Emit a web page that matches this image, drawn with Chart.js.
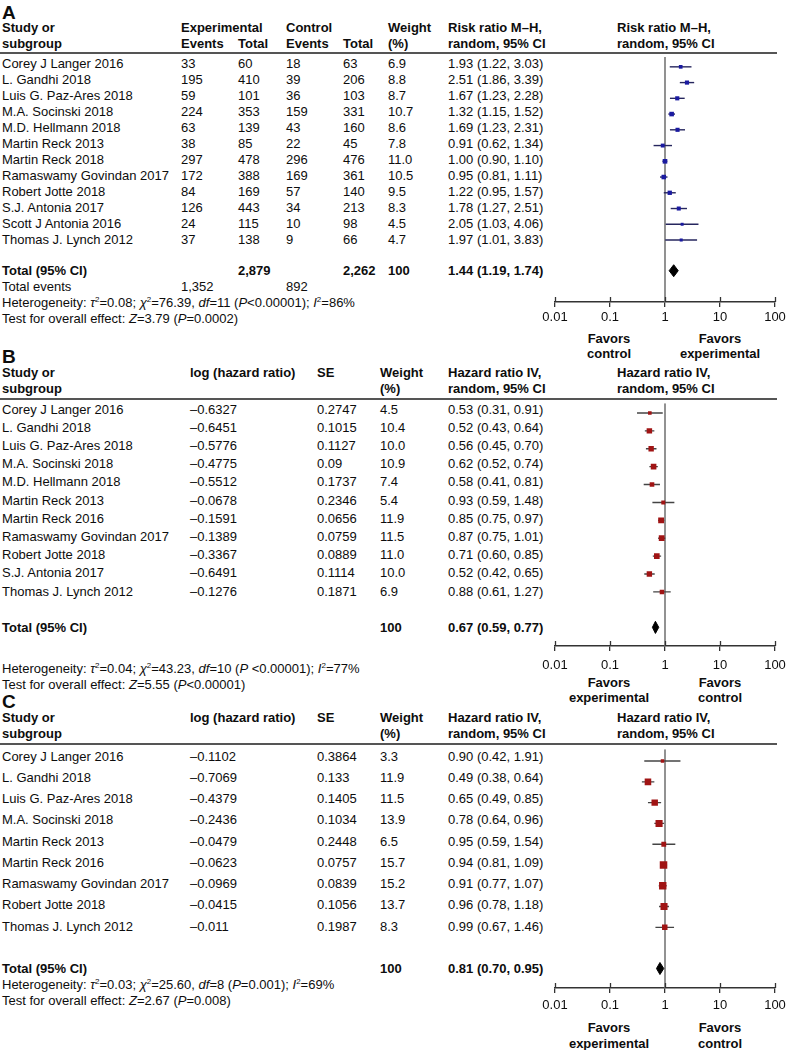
<!DOCTYPE html>
<html><head><meta charset="utf-8">
<script src="https://cdn.jsdelivr.net/npm/chart.js@4.4.1/dist/chart.umd.min.js"></script>
<style>
html,body{margin:0;padding:0;background:#fff;}
#page{position:relative;width:786px;height:1050px;overflow:hidden;font-family:"Liberation Sans",Arial,sans-serif;font-size:13px;color:#0d0d0d;}
.t{position:absolute;white-space:nowrap;line-height:15px;height:15px;}
.b{font-weight:bold;}
.c{transform:translateX(-50%);text-align:center;}
.hl{position:absolute;left:0;width:777px;height:1.5px;background:#555;}
.cv{position:absolute;}
sup{font-size:8px;line-height:0;vertical-align:5px;}
.big{font-size:19px;font-weight:bold;line-height:20px;height:20px;}
</style></head><body><div id="page"></div>
<script>
// ---------- Panel A data ----------
const studiesA = ["Corey J Langer 2016","L. Gandhi 2018","Luis G. Paz-Ares 2018","M.A. Socinski 2018","M.D. Hellmann 2018","Martin Reck 2013","Martin Reck 2018","Ramaswamy Govindan 2017","Robert Jotte 2018","S.J. Antonia 2017","Scott J Antonia 2016","Thomas J. Lynch 2012"];
const expEventsA = [33,195,59,224,63,38,297,172,84,126,24,37];
const expTotalA  = [60,410,101,353,139,85,478,388,169,443,115,138];
const ctlEventsA = [18,39,36,159,43,22,296,169,57,34,10,9];
const ctlTotalA  = [63,206,103,331,160,45,476,361,140,213,98,66];
const weightA    = [6.9,8.8,8.7,10.7,8.6,7.8,11.0,10.5,9.5,8.3,4.5,4.7];
const rrA   = [1.93,2.51,1.67,1.32,1.69,0.91,1.00,0.95,1.22,1.78,2.05,1.97];
const rrLoA = [1.22,1.86,1.23,1.15,1.23,0.62,0.90,0.81,0.95,1.27,1.03,1.01];
const rrHiA = [3.03,3.39,2.28,1.52,2.31,1.34,1.10,1.11,1.57,2.51,4.06,3.83];
const totalA = [1.44,1.19,1.74];
const totalCountsA = ["2,879","2,262"];
const totalEventsA = ["1,352","892"];

// ---------- Panel B data ----------
const studiesB = ["Corey J Langer 2016","L. Gandhi 2018","Luis G. Paz-Ares 2018","M.A. Socinski 2018","M.D. Hellmann 2018","Martin Reck 2013","Martin Reck 2016","Ramaswamy Govindan 2017","Robert Jotte 2018","S.J. Antonia 2017","Thomas J. Lynch 2012"];
const logHrB  = [-0.6327,-0.6451,-0.5776,-0.4775,-0.5512,-0.0678,-0.1591,-0.1389,-0.3367,-0.6491,-0.1276];
const seB     = [0.2747,0.1015,0.1127,0.09,0.1737,0.2346,0.0656,0.0759,0.0889,0.1114,0.1871];
const weightB = [4.5,10.4,10.0,10.9,7.4,5.4,11.9,11.5,11.0,10.0,6.9];
const hrB   = [0.53,0.52,0.56,0.62,0.58,0.93,0.85,0.87,0.71,0.52,0.88];
const hrLoB = [0.31,0.43,0.45,0.52,0.41,0.59,0.75,0.75,0.60,0.42,0.61];
const hrHiB = [0.91,0.64,0.70,0.74,0.81,1.48,0.97,1.01,0.85,0.65,1.27];
const totalB = [0.67,0.59,0.77];

// ---------- Panel C data ----------
const studiesC = ["Corey J Langer 2016","L. Gandhi 2018","Luis G. Paz-Ares 2018","M.A. Socinski 2018","Martin Reck 2013","Martin Reck 2016","Ramaswamy Govindan 2017","Robert Jotte 2018","Thomas J. Lynch 2012"];
const logHrC  = [-0.1102,-0.7069,-0.4379,-0.2436,-0.0479,-0.0623,-0.0969,-0.0415,-0.011];
const seC     = [0.3864,0.133,0.1405,0.1034,0.2448,0.0757,0.0839,0.1056,0.1987];
const weightC = [3.3,11.9,11.5,13.9,6.5,15.7,15.2,13.7,8.3];
const hrC   = [0.90,0.49,0.65,0.78,0.95,0.94,0.91,0.96,0.99];
const hrLoC = [0.42,0.38,0.49,0.64,0.59,0.81,0.77,0.78,0.67];
const hrHiC = [1.91,0.64,0.85,0.96,1.54,1.09,1.07,1.18,1.46];
const totalC = [0.81,0.70,0.95];

// ---------- axis ----------
const axisTicks = [0.01,0.1,1,10,100];
const axisTickLabels = ["0.01","0.1","1","10","100"];

// ---------- helpers ----------
const page = document.getElementById('page');
function txt(x, y, html, cls) {
  const d = document.createElement('div');
  d.className = 't' + (cls ? ' ' + cls : '');
  d.style.left = x + 'px';
  d.style.top = (y - 7.5) + 'px';
  d.innerHTML = html;
  page.appendChild(d);
  return d;
}
function hline(y) {
  const d = document.createElement('div');
  d.className = 'hl';
  d.style.top = (y - 0.75) + 'px';
  page.appendChild(d);
}
const f2 = v => v.toFixed(2);
const ciText = (e, l, h) => f2(e) + ' (' + f2(l) + ', ' + f2(h) + ')';
const dash = v => (v < 0 ? '\u2013' + String(Math.abs(v)) : String(v));

const upTicks = {
  id: 'upTicks',
  afterDraw(chart) {
    const xs = chart.scales.x, ctx = chart.ctx, y = chart.chartArea.bottom;
    ctx.save();
    ctx.strokeStyle = '#333'; ctx.lineWidth = 1.3;
    axisTicks.forEach(v => {
      const x = Math.round(xs.getPixelForValue(v)) + 0.5;
      ctx.beginPath(); ctx.moveTo(x, y - 5); ctx.lineTo(x, y); ctx.stroke();
    });
    ctx.restore();
  }
};

function forest(cfg) {
  const AXH = 40;
  const left = 520, width = 280, padL = 35, padR = 25;
  const cv = document.createElement('canvas');
  cv.className = 'cv';
  const h = (cfg.axisY - cfg.lineY) + AXH;
  cv.width = width; cv.height = h;
  cv.style.left = left + 'px'; cv.style.top = cfg.lineY + 'px';
  cv.style.width = width + 'px'; cv.style.height = h + 'px';
  page.appendChild(cv);
  const yMin = (cfg.lineY - cfg.row0) / cfg.rowH;
  const yMax = (cfg.axisY - cfg.row0) / cfg.rowH;
  const datasets = [];
  datasets.push({
    type: 'scatter',
    data: cfg.est.map((v, i) => ({x: v, y: i})),
    pointStyle: 'rect',
    pointRadius: cfg.weight.map(w => cfg.k * Math.sqrt(w) / Math.SQRT2),
    backgroundColor: cfg.markColor,
    borderWidth: 0,
    order: 0
  });
  cfg.est.forEach((v, i) => {
    datasets.push({
      type: 'line',
      data: [{x: cfg.lo[i], y: i}, {x: cfg.hi[i], y: i}],
      borderColor: cfg.ciColor, borderWidth: 1.4, pointRadius: 0, order: 1
    });
  });
  const t = cfg.totalRow, dh = cfg.diamondH;
  datasets.push({
    type: 'line',
    data: [{x: cfg.total[1], y: t}, {x: cfg.total[0], y: t - dh}, {x: cfg.total[2], y: t}, {x: cfg.total[0], y: t + dh}, {x: cfg.total[1], y: t}],
    borderColor: '#000', backgroundColor: '#000', borderWidth: 1, pointRadius: 0, fill: 'shape', order: 0
  });
  datasets.push({
    type: 'line',
    data: [{x: 1, y: yMin}, {x: 1, y: yMax}],
    borderColor: '#777', borderWidth: 1.6, pointRadius: 0, order: 2
  });
  new Chart(cv, {
    type: 'scatter',
    data: {datasets},
    options: {
      responsive: false, animation: false, devicePixelRatio: 1, events: [],
      layout: {padding: {left: padL, right: padR, top: 0, bottom: 0}},
      plugins: {legend: {display: false}, tooltip: {enabled: false}},
      scales: {
        x: {
          type: 'logarithmic', min: 0.01, max: 100,
          afterBuildTicks: s => { s.ticks = axisTicks.map(v => ({value: v})); },
          afterFit: s => { s.height = AXH; },
          ticks: {
            autoSkip: false, maxRotation: 0, padding: cfg.tickPad, color: '#0d0d0d',
            font: {family: '"Liberation Sans", Arial, sans-serif', size: 13},
            callback: v => { const i = axisTicks.findIndex(a => Math.abs(a - v) < 1e-9); return i >= 0 ? axisTickLabels[i] : ''; }
          },
          grid: {drawOnChartArea: false, drawTicks: true, tickLength: 5, color: '#333', lineWidth: 1.3},
          border: {display: true, color: '#333', width: 1.5}
        },
        y: {type: 'linear', reverse: true, display: false, min: yMin, max: yMax}
      }
    },
    plugins: [upTicks]
  });
}

// ================= Panel A =================
(function () {
  const row0 = 63, rowH = 16, totalRow = 12.95;
  const ry = i => row0 + rowH * i;
  txt(2, 10, 'A', 'big');
  txt(2, 27, 'Study or', 'b'); txt(2, 43, 'subgroup', 'b');
  txt(181, 27, 'Experimental', 'b'); txt(181, 43, 'Events', 'b'); txt(238, 43, 'Total', 'b');
  txt(286, 27, 'Control', 'b'); txt(286, 43, 'Events', 'b'); txt(343, 43, 'Total', 'b');
  txt(388, 27, 'Weight', 'b'); txt(388, 43, '(%)', 'b');
  txt(448, 27, 'Risk ratio M\u2013H,', 'b'); txt(448, 43, 'random, 95% CI', 'b');
  txt(617, 27, 'Risk ratio M\u2013H,', 'b'); txt(617, 43, 'random, 95% CI', 'b');
  hline(53);
  studiesA.forEach((s, i) => {
    const y = ry(i);
    txt(2, y, s);
    txt(181, y, String(expEventsA[i])); txt(238, y, String(expTotalA[i]));
    txt(286, y, String(ctlEventsA[i])); txt(343, y, String(ctlTotalA[i]));
    txt(388, y, weightA[i].toFixed(1));
    txt(448, y, ciText(rrA[i], rrLoA[i], rrHiA[i]));
  });
  const ty = ry(totalRow);
  txt(2, ty, 'Total (95% CI)', 'b');
  txt(238, ty, totalCountsA[0], 'b'); txt(343, ty, totalCountsA[1], 'b');
  txt(388, ty, '100', 'b'); txt(448, ty, ciText(totalA[0], totalA[1], totalA[2]), 'b');
  txt(2, 286, 'Total events'); txt(181, 286, totalEventsA[0]); txt(286, 286, totalEventsA[1]);
  txt(2, 302, 'Heterogeneity: <i>\u03c4</i><sup>2</sup>=0.08; <i>\u03c7</i><sup>2</sup>=76.39, <i>df</i>=11 (<i>P</i>&lt;0.00001); <i>I</i><sup>2</sup>=86%');
  txt(2, 318, 'Test for overall effect: <i>Z</i>=3.79 (<i>P</i>=0.0002)');
  txt(609, 338, 'Favors', 'b c'); txt(609, 353, 'control', 'b c');
  txt(720, 338, 'Favors', 'b c'); txt(720, 353, 'experimental', 'b c');
  forest({lineY: 53, axisY: 302, row0, rowH, est: rrA, lo: rrLoA, hi: rrHiA, weight: weightA,
    k: 1.4, markColor: '#1a1aa0', ciColor: '#26265e', total: totalA, totalRow, diamondH: 0.38, tickPad: 3});
})();

// ================= Panel B =================
(function () {
  const row0 = 409, rowH = 18.2, totalRow = 11.98;
  const ry = i => row0 + rowH * i;
  txt(2, 354, 'B', 'big');
  txt(2, 372, 'Study or', 'b'); txt(2, 388, 'subgroup', 'b');
  txt(190, 372, 'log (hazard ratio)', 'b'); txt(317, 372, 'SE', 'b');
  txt(380, 372, 'Weight', 'b'); txt(380, 388, '(%)', 'b');
  txt(448, 372, 'Hazard ratio IV,', 'b'); txt(448, 388, 'random, 95% CI', 'b');
  txt(617, 372, 'Hazard ratio IV,', 'b'); txt(617, 388, 'random, 95% CI', 'b');
  hline(399);
  studiesB.forEach((s, i) => {
    const y = ry(i);
    txt(2, y, s); txt(190, y, dash(logHrB[i])); txt(317, y, String(seB[i]));
    txt(380, y, weightB[i].toFixed(1)); txt(448, y, ciText(hrB[i], hrLoB[i], hrHiB[i]));
  });
  const ty = ry(totalRow);
  txt(2, ty, 'Total (95% CI)', 'b'); txt(380, ty, '100', 'b');
  txt(448, ty, ciText(totalB[0], totalB[1], totalB[2]), 'b');
  txt(2, 668, 'Heterogeneity: <i>\u03c4</i><sup>2</sup>=0.04; <i>\u03c7</i><sup>2</sup>=43.23, <i>df</i>=10 (<i>P</i> &lt;0.00001); <i>I</i><sup>2</sup>=77%');
  txt(2, 684, 'Test for overall effect: <i>Z</i>=5.55 (<i>P</i>&lt;0.00001)');
  txt(609, 682, 'Favors', 'b c'); txt(609, 697, 'experimental', 'b c');
  txt(720, 682, 'Favors', 'b c'); txt(720, 697, 'control', 'b c');
  forest({lineY: 399, axisY: 646, row0, rowH, est: hrB, lo: hrLoB, hi: hrHiB, weight: weightB,
    k: 1.7, markColor: '#a01414', ciColor: '#444', total: totalB, totalRow, diamondH: 0.34, tickPad: 7});
})();

// ================= Panel C =================
(function () {
  const row0 = 756, rowH = 21.25, totalRow = 9.98;
  const ry = i => row0 + rowH * i;
  txt(2, 699, 'C', 'big');
  txt(2, 717, 'Study or', 'b'); txt(2, 733, 'subgroup', 'b');
  txt(190, 717, 'log (hazard ratio)', 'b'); txt(317, 717, 'SE', 'b');
  txt(380, 717, 'Weight', 'b'); txt(380, 733, '(%)', 'b');
  txt(448, 717, 'Hazard ratio IV,', 'b'); txt(448, 733, 'random, 95% CI', 'b');
  txt(617, 717, 'Hazard ratio IV,', 'b'); txt(617, 733, 'random, 95% CI', 'b');
  hline(744);
  studiesC.forEach((s, i) => {
    const y = ry(i);
    txt(2, y, s); txt(190, y, dash(logHrC[i])); txt(317, y, String(seC[i]));
    txt(380, y, weightC[i].toFixed(1)); txt(448, y, ciText(hrC[i], hrLoC[i], hrHiC[i]));
  });
  const ty = ry(totalRow);
  txt(2, ty, 'Total (95% CI)', 'b'); txt(380, ty, '100', 'b');
  txt(448, ty, ciText(totalC[0], totalC[1], totalC[2]), 'b');
  txt(2, 984, 'Heterogeneity: <i>\u03c4</i><sup>2</sup>=0.03; <i>\u03c7</i><sup>2</sup>=25.60, <i>df</i>=8 (<i>P</i>=0.001); <i>I</i><sup>2</sup>=69%');
  txt(2, 1000, 'Test for overall effect: <i>Z</i>=2.67 (<i>P</i>=0.008)');
  txt(609, 1027, 'Favors', 'b c'); txt(609, 1043, 'experimental', 'b c');
  txt(720, 1027, 'Favors', 'b c'); txt(720, 1043, 'control', 'b c');
  forest({lineY: 744, axisY: 988, row0, rowH, est: hrC, lo: hrLoC, hi: hrHiC, weight: weightC,
    k: 1.9, markColor: '#a01414', ciColor: '#444', total: totalC, totalRow, diamondH: 0.29, tickPad: 5});
})();
</script></body></html>
